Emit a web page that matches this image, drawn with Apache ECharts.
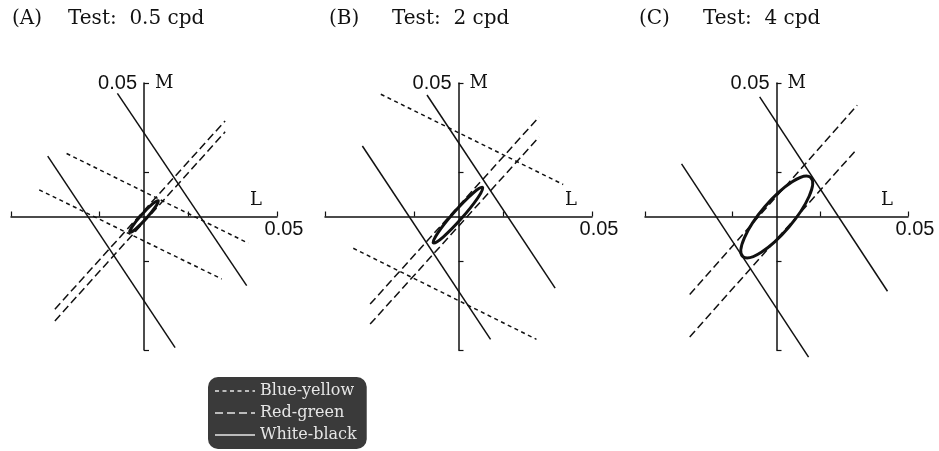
<!DOCTYPE html>
<html>
<head>
<meta charset="utf-8">
<script src="https://cdn.jsdelivr.net/npm/echarts@6/dist/echarts.min.js"></script>
<style>
html,body{margin:0;padding:0;background:#fff;}
#chart{width:939px;height:451px;}
</style>
</head>
<body>
<div id="chart"></div>
<script>
// ---------- data ----------
const panelLabels = ['(A)', '(B)', '(C)'];
const panelTitles = ['Test:  0.5 cpd', 'Test:  2 cpd', 'Test:  4 cpd'];
const axisMin = -0.05;
const axisMax = 0.05;
const tickValues = [-0.05, -0.05 / 3, 0.05 / 3, 0.05];
const tickLabelValues = [0.05];
const tickLabelText = '0.05';
const seriesNames = ['Blue-yellow', 'Red-green', 'White-black'];

// each line: [[L1, M1], [L2, M2]]
const blueYellowA = [[[-0.0291, 0.0236], [0.0392, -0.0100]], [[-0.0394, 0.0100], [0.0292, -0.0234]]];
const redGreenA   = [[[-0.0335, -0.0347], [0.0305, 0.0358]], [[-0.0335, -0.0391], [0.0305, 0.0317]]];
const whiteBlackA = [[[-0.0100, 0.0461], [0.0386, -0.0259]], [[-0.0362, 0.0226], [0.0117, -0.0491]]];

const blueYellowB = [[[-0.0291, 0.0458], [0.0392, 0.0120]], [[-0.0394, -0.0119], [0.0292, -0.0460]]];
const redGreenB   = [[[-0.0331, -0.0328], [0.0302, 0.0373]], [[-0.0331, -0.0403], [0.0302, 0.0298]]];
const whiteBlackB = [[[-0.0118, 0.0455], [0.0362, -0.0268]], [[-0.0360, 0.0264], [0.0120, -0.0460]]];

const blueYellowC = [];
const redGreenC   = [[[-0.0330, -0.0292], [0.0307, 0.0417]], [[-0.0330, -0.0451], [0.0307, 0.0254]]];
const whiteBlackC = [[[-0.0064, 0.0448], [0.0422, -0.0280]], [[-0.0361, 0.0197], [0.0122, -0.0527]]];

// ellipse: [centre L, centre M, semi-major, semi-minor, angle in degrees]
const ellipseA = [0.0000, 0.0000, 0.0080, 0.0011, 48];
const ellipseB = [-0.0002, 0.0005, 0.0139, 0.0018, 48.5];
const ellipseC = [0.0001, -0.0002, 0.0198, 0.0059, 49.5];

const panels = [
  {by: blueYellowA, rg: redGreenA, wb: whiteBlackA, el: ellipseA},
  {by: blueYellowB, rg: redGreenB, wb: whiteBlackB, el: ellipseB},
  {by: blueYellowC, rg: redGreenC, wb: whiteBlackC, el: ellipseC}
];

// ---------- layout ----------
const gridBoxes = [
  {left: 11, top: 83, width: 266, height: 267},
  {left: 325, top: 83, width: 267, height: 267},
  {left: 645, top: 83, width: 263, height: 267}
];
const labelLeft = [12, 329, 639];
const titleLeft = [68, 392, 703];

const serif = 'DejaVu Serif';
const sans = 'Liberation Sans';

const grid = gridBoxes.map(g => Object.assign({containLabel: false, outerBoundsMode: 'none'}, g));
const xAxis = gridBoxes.map((g, i) => ({
  type: 'value', gridIndex: i, min: axisMin, max: axisMax,
  position: 'bottom', offset: -g.height / 2,
  name: 'L', nameLocation: 'end', nameGap: 0,
  nameTextStyle: {fontFamily: serif, fontSize: 18, color: '#111', align: 'right', verticalAlign: 'bottom', padding: [0, 15, 7, 0]},
  axisLine: {onZero: false, lineStyle: {color: '#111', width: 1.5}},
  axisTick: {show: true, inside: true, length: 5, customValues: tickValues, lineStyle: {color: '#111', width: 1.2}},
  axisLabel: {show: true, customValues: tickLabelValues, formatter: () => tickLabelText, fontFamily: sans, fontSize: 20, color: '#111', margin: 3, padding: [0, 0, 0, 14]},
  splitLine: {show: false}
}));
const yAxis = gridBoxes.map((g, i) => ({
  type: 'value', gridIndex: i, min: axisMin, max: axisMax,
  position: 'left', offset: -g.width / 2,
  name: 'M', nameLocation: 'end', nameGap: 0,
  nameTextStyle: {fontFamily: serif, fontSize: 18, color: '#111', align: 'left', verticalAlign: 'middle', padding: [0, 0, 0, 11]},
  axisLine: {onZero: false, lineStyle: {color: '#111', width: 1.5}},
  axisTick: {show: true, inside: true, length: 5, customValues: tickValues, lineStyle: {color: '#111', width: 1.2}},
  axisLabel: {show: true, customValues: tickLabelValues, formatter: () => tickLabelText, fontFamily: sans, fontSize: 20, color: '#111', margin: 7},
  splitLine: {show: false}
}));

const styles = {
  'Blue-yellow': {type: [4, 3.5], width: 1.5},
  'Red-green': {type: [8, 4], width: 1.5},
  'White-black': {type: 'solid', width: 1.5}
};

const series = [];
panels.forEach((p, i) => {
  [['Blue-yellow', p.by], ['Red-green', p.rg], ['White-black', p.wb]].forEach(([name, lines]) => {
    lines.forEach(seg => {
      series.push({
        type: 'line', name: name, xAxisIndex: i, yAxisIndex: i,
        data: seg, symbol: 'none', silent: true, animation: false, clip: false,
        itemStyle: {color: '#111'},
        lineStyle: Object.assign({color: '#111'}, styles[name])
      });
    });
  });
  series.push({
    type: 'custom', name: 'ellipse' + i, xAxisIndex: i, yAxisIndex: i,
    data: [p.el], silent: true, animation: false, clip: false,
    encode: {x: 0, y: 1},
    renderItem: function (params, api) {
      const c = api.coord([api.value(0), api.value(1)]);
      const sz = api.size([api.value(2), api.value(3)]);
      return {
        type: 'ellipse',
        x: c[0], y: c[1],
        rotation: api.value(4) * Math.PI / 180,
        shape: {cx: 0, cy: 0, rx: sz[0], ry: sz[1]},
        style: {fill: 'none', stroke: '#111', lineWidth: 3}
      };
    }
  });
});

const title = [];
panelLabels.forEach((t, i) => {
  title.push({text: t, left: labelLeft[i], top: 9, padding: 0,
    textStyle: {fontFamily: serif, fontSize: 20, fontWeight: 'normal', color: '#111'}});
  title.push({text: panelTitles[i], left: titleLeft[i], top: 9, padding: 0,
    textStyle: {fontFamily: serif, fontSize: 20, fontWeight: 'normal', color: '#111'}});
});

const chart = echarts.init(document.getElementById('chart'), null, {renderer: 'canvas'});
chart.setOption({
  animation: false,
  backgroundColor: '#fff',
  title: title,
  grid: grid,
  xAxis: xAxis,
  yAxis: yAxis,
  legend: {
    data: seriesNames,
    orient: 'vertical',
    left: 208, top: 377,
    backgroundColor: '#3a3a3a',
    borderRadius: 10,
    padding: [6, 10, 6, 6],
    itemWidth: 40, itemHeight: 14, itemGap: 6,
    itemStyle: {opacity: 0},
    lineStyle: {color: '#bbb'},
    textStyle: {fontFamily: serif, fontSize: 16, color: '#e6e6e6'},
    selectedMode: false
  },
  series: series
});
</script>
</body>
</html>
